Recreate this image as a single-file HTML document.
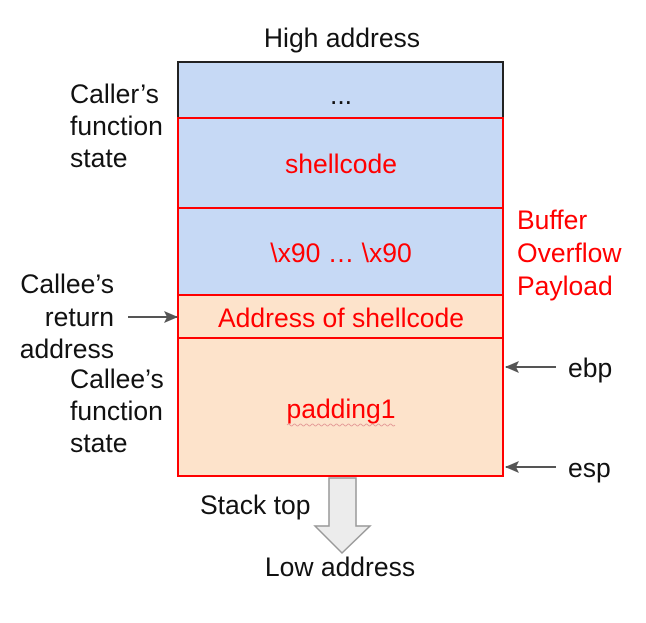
<!DOCTYPE html>
<html><head><meta charset="utf-8"><style>
html,body{margin:0;padding:0;background:#fff}
svg text{font-family:"Liberation Sans",Arial,sans-serif;font-size:26.5px}
</style></head><body>
<svg width="646" height="618" viewBox="0 0 646 618" xmlns="http://www.w3.org/2000/svg">
<defs>
<marker id="ah" markerWidth="14" markerHeight="12" refX="13" refY="6" orient="auto" markerUnits="userSpaceOnUse">
<path d="M0,0 L14,6 L0,12 L3,6 z" fill="#555"/></marker>
</defs>
<rect x="178" y="62" width="325" height="56" fill="#c6d9f5" stroke="#222" stroke-width="2"/>
<rect x="178" y="118" width="325" height="90" fill="#c6d9f5" stroke="#f00" stroke-width="2"/>
<rect x="178" y="208" width="325" height="87" fill="#c6d9f5" stroke="#f00" stroke-width="2"/>
<rect x="178" y="295" width="325" height="43" fill="#fde3cb" stroke="#f00" stroke-width="2"/>
<rect x="178" y="338" width="325" height="138" fill="#fde3cb" stroke="#f00" stroke-width="2"/>
<path d="M329,478 L356,478 L356,526 L370,526 L342,553 L315,526 L329,526 z" fill="#ececec" stroke="#999" stroke-width="1.5"/>
<text x="342" y="47" text-anchor="middle" fill="#111">High address</text>
<text x="341" y="104" text-anchor="middle" fill="#111">...</text>
<text x="341" y="173" text-anchor="middle" fill="#f00">shellcode</text>
<text x="341" y="262" text-anchor="middle" fill="#f00">\x90 … \x90</text>
<text x="341" y="327" text-anchor="middle" fill="#f00">Address of shellcode</text>
<text x="341" y="418" text-anchor="middle" fill="#f00">padding1</text>
<path d="M287,425 q1.5,-2 3,0 t3,0 t3,0 t3,0 t3,0 t3,0 t3,0 t3,0 t3,0 t3,0 t3,0 t3,0 t3,0 t3,0 t3,0 t3,0 t3,0 t3,0 t3,0 t3,0 t3,0 t3,0 t3,0 t3,0 t3,0 t3,0 t3,0 t3,0 t3,0 t3,0 t3,0 t3,0 t3,0 t3,0 t3,0 t3,0" fill="none" stroke="#e09090" stroke-width="0.8"/>
<text x="517" y="229" fill="#f00">Buffer</text>
<text x="517" y="262" fill="#f00">Overflow</text>
<text x="517" y="295" fill="#f00">Payload</text>
<text x="70" y="103" fill="#111">Caller’s</text>
<text x="70" y="135" fill="#111">function</text>
<text x="70" y="167" fill="#111">state</text>
<text x="114" y="293" text-anchor="end" fill="#111">Callee’s</text>
<text x="114" y="326" text-anchor="end" fill="#111">return</text>
<text x="114" y="358" text-anchor="end" fill="#111">address</text>
<text x="70" y="388" fill="#111">Callee’s</text>
<text x="70" y="420" fill="#111">function</text>
<text x="70" y="452" fill="#111">state</text>
<line x1="128" y1="317" x2="177" y2="317" stroke="#555" stroke-width="2" marker-end="url(#ah)"/>
<line x1="556" y1="367" x2="506" y2="367" stroke="#555" stroke-width="2" marker-end="url(#ah)"/>
<line x1="556" y1="467" x2="506" y2="467" stroke="#555" stroke-width="2" marker-end="url(#ah)"/>
<text x="568" y="377" fill="#111">ebp</text>
<text x="568" y="477" fill="#111">esp</text>
<text x="200" y="514" fill="#111">Stack top</text>
<text x="340" y="576" text-anchor="middle" fill="#111">Low address</text>
</svg>
</body></html>
